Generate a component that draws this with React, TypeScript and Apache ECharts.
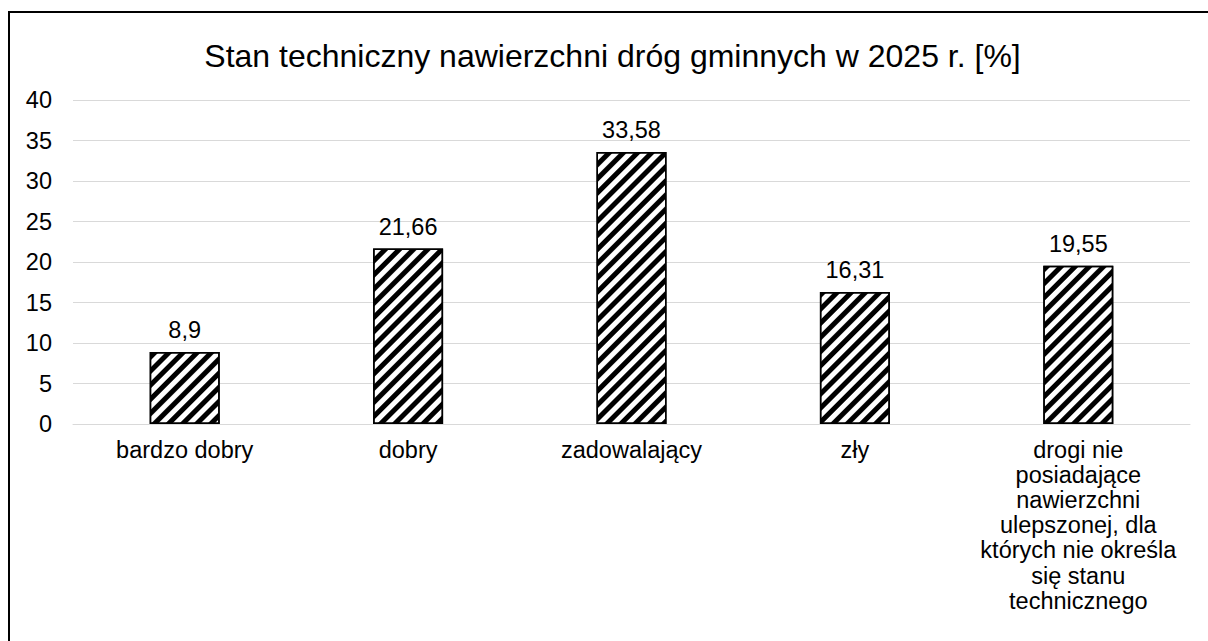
import React, { useEffect, useRef } from 'react';
import * as echarts from 'echarts';

const titleText = 'Stan techniczny nawierzchni dróg gminnych w 2025 r. [%]';
const categories = [
  'bardzo dobry',
  'dobry',
  'zadowalający',
  'zły',
  'drogi nie\nposiadające\nnawierzchni\nulepszonej, dla\nktórych nie określa\nsię stanu\ntechnicznego',
];
const values = [8.9, 21.66, 33.58, 16.31, 19.55];
const yMin = 0;
const yMax = 40;
const yStep = 5;

const FONT = '"Liberation Sans", Arial, sans-serif';

export default function App() {
  const ref = useRef<HTMLDivElement>(null);
  useEffect(() => {
    if (!ref.current) return;
    const chart = echarts.init(ref.current, undefined, { renderer: 'svg' });
    chart.setOption({
      animation: false,
      aria: { enabled: true, decal: { show: true } },
      title: {
        text: titleText,
        left: 'center',
        top: 22,
        textStyle: { fontFamily: FONT, fontSize: 32, fontWeight: 'normal', color: '#000' },
      },
      grid: { left: 63, top: 87, width: 1117, height: 324, containLabel: false },
      xAxis: {
        type: 'category',
        data: categories,
        axisLine: { show: true, lineStyle: { color: '#d9d9d9', width: 1 } },
        axisTick: { show: false },
        axisLabel: {
          interval: 0,
          margin: 13,
          color: '#000',
          fontFamily: FONT,
          fontSize: 23.5,
          lineHeight: 25.2,
          align: 'center',
        },
      },
      yAxis: {
        type: 'value',
        min: yMin,
        max: yMax,
        interval: yStep,
        axisLine: { show: false },
        axisTick: { show: false },
        splitLine: { lineStyle: { color: '#d9d9d9', width: 1 } },
        axisLabel: { margin: 21, color: '#000', fontFamily: FONT, fontSize: 23.5 },
      },
      series: [
        {
          type: 'bar',
          data: values,
          barWidth: 70,
          itemStyle: {
            color: '#fff',
            borderColor: '#000',
            borderWidth: 1.5,
            decal: {
              symbol: 'rect',
              symbolSize: 1,
              dashArrayX: [10, 0],
              dashArrayY: [5, 5],
              rotation: -Math.PI / 4,
              color: '#000',
              backgroundColor: '#fff',
            },
          },
          label: {
            show: true,
            position: 'top',
            distance: 10,
            color: '#000',
            fontFamily: FONT,
            fontSize: 23.5,
            formatter: (p: any) => String(p.value).replace('.', ','),
          },
        },
      ],
    });
    return () => chart.dispose();
  }, []);
  return (
    <div
      style={{
        position: 'fixed',
        left: 8,
        top: 11,
        width: 1205,
        height: 650,
        border: '2px solid #000',
        background: '#fff',
      }}
    >
      <div ref={ref} style={{ width: 1205, height: 650 }} />
    </div>
  );
}
